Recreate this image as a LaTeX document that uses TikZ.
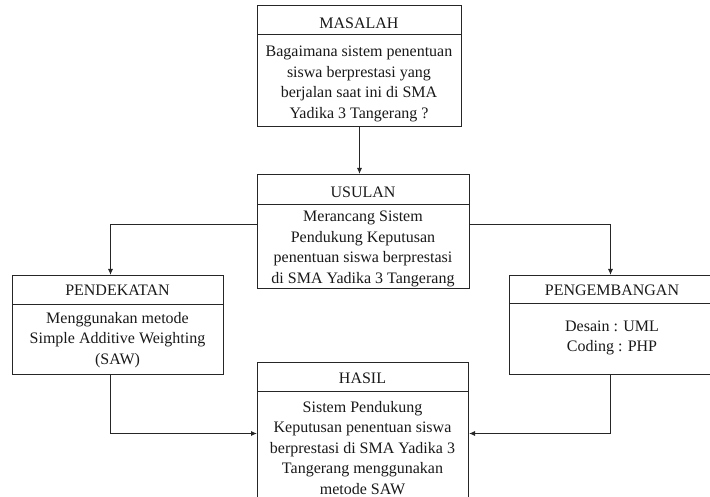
\documentclass[tikz,border=0pt]{standalone}
\usepackage{fontspec}
\setmainfont{Liberation Serif}
\usetikzlibrary{arrows.meta}
\begin{document}
\begin{tikzpicture}[x=1pt,y=-1pt,
  box/.style={draw=black!85, line width=1pt, anchor=north west, inner sep=0pt},
  hd/.style={font=\fontsize{16}{20.5}\selectfont, text=black!90, inner sep=0pt},
  bd/.style={font=\fontsize{16}{20.5}\selectfont, text=black!90, align=center, inner sep=0pt},
  arr/.style={draw=black!85, line width=1pt, -{Latex[length=6pt,width=5pt]}},
  sepline/.style={draw=black!85, line width=1pt}]
\useasboundingbox (0,0) rectangle (710,497);
\clip (0,0) rectangle (710,497);
% boxes
\node[box, minimum width=204pt, minimum height=121pt] (masalah) at (257,5) {};
\node[box, minimum width=212pt, minimum height=114pt] (usulan) at (257,174) {};
\node[box, minimum width=211pt, minimum height=99pt] (pendekatan) at (12,275) {};
\node[box, minimum width=204pt, minimum height=99pt] (pengembangan) at (509,275) {};
\node[box, minimum width=211pt, minimum height=142pt] (hasil) at (257,362) {};
% header separators
\draw[sepline] ([yshift=-30pt]masalah.north west) -- ([yshift=-30pt]masalah.north east);
\draw[sepline] ([yshift=-31pt]usulan.north west) -- ([yshift=-31pt]usulan.north east);
\draw[sepline] ([yshift=-30pt]pendekatan.north west) -- ([yshift=-30pt]pendekatan.north east);
\draw[sepline] ([yshift=-29pt]pengembangan.north west) -- ([yshift=-29pt]pengembangan.north east);
\draw[sepline] ([yshift=-29pt]hasil.north west) -- ([yshift=-29pt]hasil.north east);
% texts
\node[hd] (masalahh) at (359,23) {MASALAH};
\node[bd] (masalahb) at (359,84) {Bagaimana sistem penentuan\\siswa berprestasi yang\\berjalan saat ini di SMA\\Yadika 3 Tangerang ?};
\node[hd] (usulanh) at (363,192) {USULAN};
\node[bd] (usulanb) at (363,249) {Merancang Sistem\\Pendukung Keputusan\\penentuan siswa berprestasi\\di SMA Yadika 3 Tangerang};
\node[hd] (pendekatanh) at (117.5,290) {PENDEKATAN};
\node[bd] (pendekatanb) at (117.5,340) {Menggunakan metode\\Simple Additive Weighting\\(SAW)};
\node[hd] (pengembanganh) at (612,290) {PENGEMBANGAN};
\node[bd] (pengembanganb) at (612,338) {Desain : UML\\Coding : PHP};
\node[hd] (hasilh) at (362.5,378) {HASIL};
\node[bd] (hasilb) at (362.5,448) {Sistem Pendukung\\Keputusan penentuan siswa\\berprestasi di SMA Yadika 3\\Tangerang menggunakan\\metode SAW};
% arrows
\draw[arr] (masalah.south) -- (masalah.south |- usulan.north);
\draw[arr] ([yshift=7pt]usulan.west) -| ([xshift=-7.5pt]pendekatan.north);
\draw[arr] ([yshift=7pt]usulan.east) -| ([xshift=-1pt]pengembangan.north);
\draw[arr] ([xshift=-7.5pt]pendekatan.south) |- (hasil.west);
\draw[arr] ([xshift=-1pt]pengembangan.south) |- (hasil.east);
\end{tikzpicture}
\end{document}
